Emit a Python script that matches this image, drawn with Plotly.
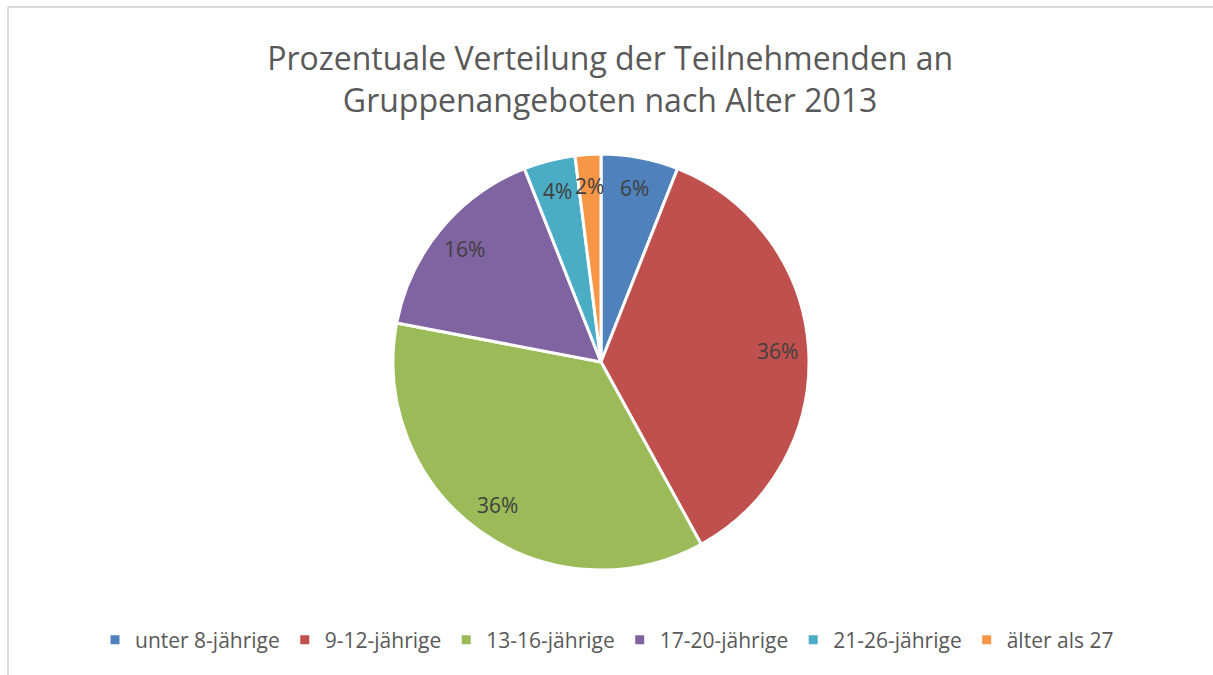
import math
import plotly.graph_objects as go

categories = ["unter 8-jährige", "9-12-jährige", "13-16-jährige", "17-20-jährige", "21-26-jährige", "älter als 27"]
values = [6, 36, 36, 16, 4, 2]
colors = ["#4F81BD", "#C0504D", "#9BBB59", "#8064A2", "#4BACC6", "#F79646"]
title_text = "Prozentuale Verteilung der Teilnehmenden an<br>Gruppenangeboten nach Alter 2013"

W, H = 1213, 675
ml, mr, mt, mb = 0, 11, 154, 105
pw, ph = W - ml - mr, H - mt - mb
radius = min(pw, ph) / 2

fig = go.Figure(go.Pie(
    labels=categories, values=values, sort=False, direction="clockwise", rotation=0,
    marker=dict(colors=colors, line=dict(color="white", width=3)),
    textinfo="none", hoverinfo="skip",
))

total = sum(values)
cum = 0
ann = []
for v in values:
    mid = (cum + v / 2) / total * 2 * math.pi
    cum += v
    d = 0.85 * radius
    ann.append(dict(
        x=0.5 + d * math.sin(mid) / pw, y=0.5 + d * math.cos(mid) / ph,
        xref="paper", yref="paper", showarrow=False,
        text=f"{round(v / total * 100)}%",
        font=dict(size=21, color="#404040", family="Open Sans"),
        xanchor="center", yanchor="middle",
    ))

line_style = dict(color="#D9D9D9", width=2)
top_y = (mt + ph - 7) / ph
shapes = [
    dict(type="line", xref="paper", yref="paper", x0=8 / pw, x1=W / pw,
         y0=top_y, y1=top_y, line=line_style),
    dict(type="line", xref="paper", yref="paper", x0=8 / pw, x1=8 / pw,
         y0=top_y, y1=(mt + ph - H) / ph, line=line_style),
]

fig.update_layout(
    width=W, height=H,
    margin=dict(l=ml, r=mr, t=mt, b=mb),
    paper_bgcolor="white", plot_bgcolor="white",
    font=dict(family="Open Sans", color="#595959"),
    title=dict(text=title_text, x=0.503, xanchor="center", y=1 - 70 / H, yanchor="middle",
               font=dict(size=32, color="#595959", family="Open Sans")),
    legend=dict(orientation="h", x=607 / pw, xanchor="center", y=-(640 - (mt + ph)) / ph,
                yanchor="middle", font=dict(size=21, color="#595959", family="Open Sans")),
    annotations=ann,
    shapes=shapes,
)

fig.write_html("out.html", config={"displayModeBar": False},
               post_script="document.body.style.margin='0px';")
